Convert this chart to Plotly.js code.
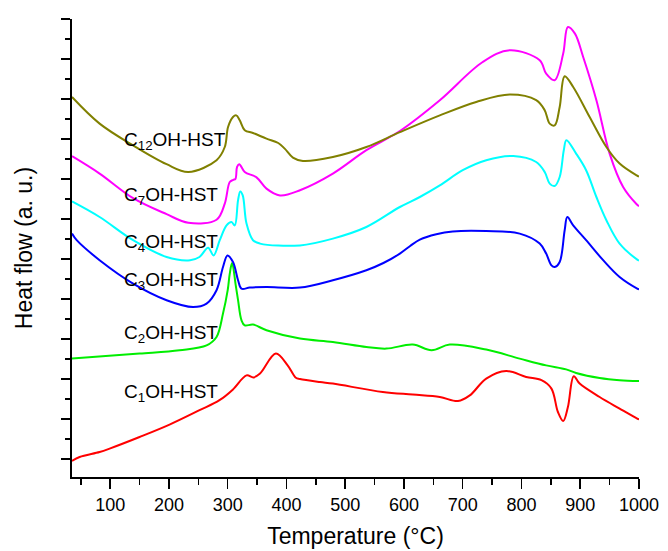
<!DOCTYPE html>
<html>
<head>
<meta charset="utf-8">
<script src="https://cdn.plot.ly/plotly-3.0.1.min.js"></script>
<style>html,body{margin:0;padding:0;background:#fff;}#chart{width:668px;height:551px;}</style>
</head>
<body>
<div id="chart"></div>
<script>
// Temperature (°C) and heat flow (a. u.)
const tC1 = [35, 48, 82, 99, 150, 201, 252, 286, 309, 332, 344, 355, 382, 402, 416, 423, 457, 479, 564, 615, 661, 692, 712, 740, 774, 808, 834, 851, 862, 871, 879, 889, 899, 933, 967, 997, 1000];
const hC1 = [-0.05, 0.05, 0.175, 0.26, 0.55, 0.86, 1.22, 1.47, 1.74, 2.09, 2.04, 2.135, 2.635, 2.34, 2.03, 2.0, 1.925, 1.885, 1.675, 1.61, 1.55, 1.45, 1.59, 2.01, 2.2, 2.05, 1.97, 1.76, 1.175, 0.95, 1.3, 2.07, 1.885, 1.55, 1.26, 1.01, 0.99];

const tC2 = [35, 150, 218, 264, 281, 292, 300, 303.5, 307.4, 313.7, 317.6, 323.4, 329, 343, 366, 423, 479, 536, 570, 615, 647, 678, 740, 797, 842, 876, 893, 933, 967, 1000];
const hC2 = [2.51, 2.635, 2.72, 2.84, 3.05, 3.635, 4.22, 4.635, 4.9, 4.34, 3.97, 3.47, 3.34, 3.36, 3.22, 3.01, 2.925, 2.8, 2.76, 2.86, 2.72, 2.86, 2.735, 2.51, 2.34, 2.24, 2.15, 2.025, 1.97, 1.95];

const tC3 = [35, 43, 82, 139, 196, 241, 264, 281, 292, 299.6, 309, 317.6, 323.4, 337.5, 366, 423, 479, 536, 565, 593, 610, 627, 655, 683, 740, 797, 831, 842, 851, 856.5, 865, 873.5, 878, 888, 910, 939, 967, 997, 1000];
const hC3 = [5.635, 5.47, 4.97, 4.385, 3.97, 3.8, 3.885, 4.22, 4.8, 5.09, 4.925, 4.47, 4.26, 4.285, 4.3, 4.285, 4.47, 4.72, 4.9, 5.135, 5.32, 5.485, 5.62, 5.69, 5.7, 5.635, 5.385, 5.135, 4.84, 4.8, 4.925, 5.72, 6.05, 5.84, 5.47, 4.97, 4.55, 4.26, 4.24];

const tC4 = [35, 82, 139, 196, 236, 252, 266.6, 276, 286.5, 298, 306.4, 312, 317.6, 321.4, 325.6, 332, 343, 355, 423, 479, 536, 593, 627, 661, 700, 740, 786, 825, 839.5, 848, 856.5, 865, 872, 876.4, 893, 910, 927.5, 944.5, 967, 997, 1000];
const hC4 = [6.44, 6.05, 5.47, 5.05, 4.97, 5.05, 5.28, 5.09, 5.47, 5.84, 5.925, 5.84, 6.47, 6.69, 6.59, 5.885, 5.47, 5.385, 5.34, 5.51, 5.8, 6.3, 6.55, 6.84, 7.22, 7.47, 7.575, 7.425, 7.175, 6.885, 6.825, 7.05, 7.72, 7.97, 7.635, 7.22, 6.55, 5.97, 5.385, 4.985, 4.96];

const tC7 = [35, 82, 139, 196, 233, 281, 295, 303.5, 309.5, 313.2, 315.9, 319.7, 329, 349, 366, 389, 423, 479, 536, 593, 661, 734, 780, 831, 842, 856.5, 871, 879, 891, 905, 927.5, 950, 973, 996, 1000];
const hC7 = [7.57, 7.135, 6.52, 6.12, 5.905, 5.98, 6.385, 6.925, 6.98, 7.005, 7.3, 7.37, 7.175, 7.04, 6.76, 6.59, 6.72, 7.135, 7.72, 8.2, 8.97, 9.925, 10.22, 9.97, 9.635, 9.47, 10.135, 10.8, 10.635, 10.05, 8.97, 7.635, 6.8, 6.37, 6.32];

const tC12 = [35, 82, 139, 196, 233, 281, 295, 300.6, 309, 314.6, 320.5, 329, 343, 366, 386, 397, 411, 428, 479, 536, 593, 661, 723, 780, 825, 839.5, 848, 856.5, 865, 873.5, 888, 916, 944.5, 967, 996, 1000];
const hC12 = [9.05, 8.385, 7.84, 7.37, 7.175, 7.47, 7.8, 8.3, 8.55, 8.59, 8.47, 8.22, 8.15, 8.01, 7.9, 7.76, 7.535, 7.45, 7.55, 7.8, 8.17, 8.59, 8.925, 9.11, 8.97, 8.72, 8.385, 8.34, 8.8, 9.57, 9.3, 8.55, 7.8, 7.385, 7.09, 7.06];

const seriesNames = ['C1OH-HST', 'C2OH-HST', 'C3OH-HST', 'C4OH-HST', 'C7OH-HST', 'C12OH-HST'];
const labelTexts = ['C<sub>1</sub>OH-HST', 'C<sub>2</sub>OH-HST', 'C<sub>3</sub>OH-HST', 'C<sub>4</sub>OH-HST', 'C<sub>7</sub>OH-HST', 'C<sub>12</sub>OH-HST'];
const labelX = [120, 120, 120, 120, 120, 120];
const labelY = [1.655, 3.12, 4.455, 5.405, 6.58, 7.955];
const colors = ['#ff0000', '#00ee00', '#0000ff', '#00ffff', '#ff00ff', '#808000'];

const xs = [tC1, tC2, tC3, tC4, tC7, tC12];
const ys = [hC1, hC2, hC3, hC4, hC7, hC12];

const traces = xs.map((x, i) => ({
  x: x, y: ys[i], name: seriesNames[i], type: 'scatter', mode: 'lines',
  line: {color: colors[i], width: 2, shape: 'spline', smoothing: 1.0},
  hoverinfo: 'skip'
}));

const font = '"Liberation Sans", Arial, sans-serif';
const annotations = labelTexts.map((t, i) => ({
  x: labelX[i], y: labelY[i], xref: 'x', yref: 'y', text: t, showarrow: false,
  xanchor: 'left', yanchor: 'middle', font: {family: font, size: 19, color: '#000'}
}));

const layout = {
  width: 668, height: 551,
  margin: {l: 72, r: 29, t: 19, b: 74},
  paper_bgcolor: '#fff', plot_bgcolor: '#fff',
  showlegend: false,
  font: {family: font, color: '#000'},
  xaxis: {
    range: [35, 1000], tickmode: 'linear', tick0: 0, dtick: 100,
    ticks: 'outside', ticklen: 10, tickwidth: 1.5, tickcolor: '#000',
    minor: {dtick: 50, ticks: 'outside', ticklen: 6, tickwidth: 1.5, tickcolor: '#000'},
    showline: true, linewidth: 2, linecolor: '#000', showgrid: false, zeroline: false,
    tickfont: {family: font, size: 18, color: '#000'},
    title: {text: 'Temperature (°C)', font: {family: font, size: 23, color: '#000'}, standoff: 14}
  },
  yaxis: {
    range: [-0.45, 11], tickmode: 'linear', tick0: 0, dtick: 1,
    ticks: 'outside', ticklen: 9, tickwidth: 1.5, tickcolor: '#000',
    minor: {dtick: 0.5, ticks: 'outside', ticklen: 5, tickwidth: 1.5, tickcolor: '#000'},
    showticklabels: false,
    showline: true, linewidth: 2, linecolor: '#000', showgrid: false, zeroline: false,
    title: {text: 'Heat flow (a. u.)', font: {family: font, size: 23, color: '#000'}, standoff: 22}
  },
  annotations: annotations
};

Plotly.newPlot('chart', traces, layout, {displayModeBar: false, staticPlot: true});
</script>
</body>
</html>
